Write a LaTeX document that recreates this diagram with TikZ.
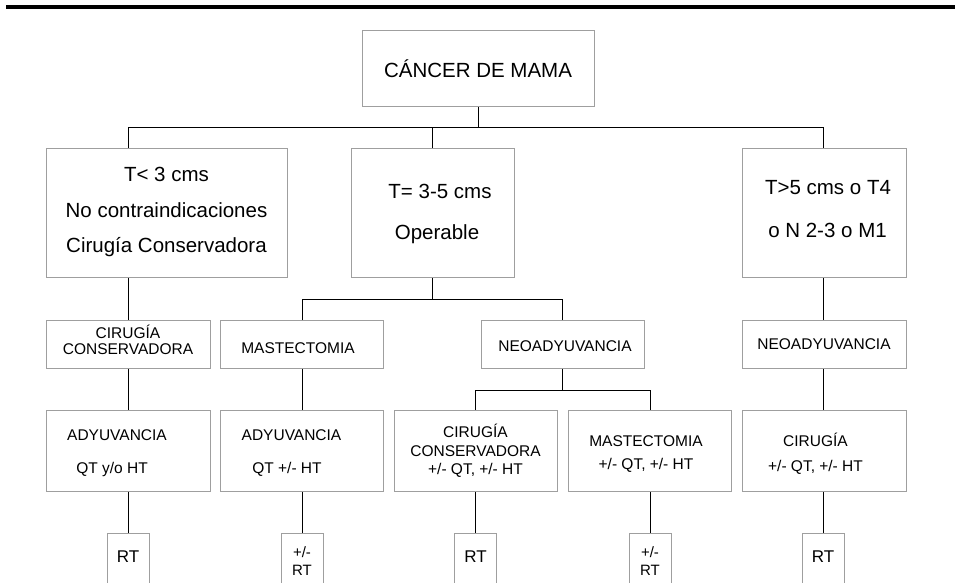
\documentclass[tikz,border=0pt]{standalone}
\usepackage{fontspec}
\setmainfont{Liberation Sans}
\usepackage{tikz}

\tikzset{
  caja/.style={draw=gray!75, line width=1pt, anchor=north, inner sep=0pt, align=center, minimum width=163pt},
  letra/.style 2 args={font=\fontsize{#1}{#2}\selectfont},
  alto/.style 2 args={text height=#1, text depth=#2},
  rtcaja/.style={caja, minimum width=42pt},
  linea/.style={line width=1pt, black}
}

\begin{document}
\begin{tikzpicture}[x=1pt, y=-1pt]
\useasboundingbox (0,0) rectangle (955,582);

% Top rule
\draw[line width=4.3pt] (6,7.2) -- (955,7.2);

% Root
\node[caja, letra={20.5}{24}, alto={47pt}{29pt}, minimum width=232pt] (cancer) at (478,30) {CÁNCER DE MAMA};

% First level: tumour size
\node[caja, letra={20.5}{35.5}, alto={104pt}{25pt}, minimum width=241pt] (tmenor) at (166.5,148) {T< 3 cms\\No contraindicaciones\\Cirugía Conservadora};
\node[caja, letra={20.5}{41}, alto={91pt}{38pt}] (tmedio) at (432.5,148) {\hspace*{15pt}T= 3-5 cms\\\hspace*{9pt}Operable};
\node[caja, letra={20.5}{43}, alto={89pt}{40pt}, minimum width=164pt] (tmayor) at (824,148) {\hspace*{8pt}T>5 cms o T4\\\hspace*{7pt}o N 2-3 o M1};

% Second level
\node[caja, letra={15.5}{16}, alto={34pt}{14pt}, minimum width=164pt] (cirugia) at (128,320) {CIRUGÍA\\CONSERVADORA};
\node[caja, letra={15.5}{18}, alto={33pt}{15pt}] (mastec) at (301.5,320) {\hspace*{-7pt}MASTECTOMIA};
\node[caja, letra={15.5}{18}, alto={31pt}{17pt}] (neoad) at (562.5,320) {\hspace*{5pt}NEOADYUVANCIA};
\node[caja, letra={15.5}{18}, alto={29pt}{19pt}, minimum width=164pt] (neoadb) at (824,320) {NEOADYUVANCIA};

% Third level
\node[caja, letra={15.5}{33}, alto={63pt}{18pt}, minimum width=164pt] (adyuv) at (128,410) {\hspace*{-22pt}ADYUVANCIA\\\hspace*{-32pt}QT y/o HT};
\node[caja, letra={15.5}{33}, alto={63pt}{18pt}] (adyuvb) at (301.5,410) {\hspace*{-20pt}ADYUVANCIA\\\hspace*{-29pt}QT +/- HT};
\node[caja, letra={15.5}{18.5}, alto={64pt}{17pt}] (cirneo) at (475.5,410) {CIRUGÍA\\CONSERVADORA\\+/- QT, +/- HT};
\node[caja, letra={15.5}{23}, alto={59pt}{22pt}] (mastneo) at (649.5,410) {\hspace*{-7pt}MASTECTOMIA\\\hspace*{-7pt}+/- QT, +/- HT};
\node[caja, letra={15.5}{25}, alto={61pt}{20pt}, minimum width=164pt] (cirmay) at (824,410) {\hspace*{-17pt}CIRUGÍA\\\hspace*{-17pt}+/- QT, +/- HT};

% Radiotherapy boxes (cut by the page edge)
\node[rtcaja, letra={17}{20}, alto={29pt}{31pt}] (rta) at (128,533) {RT};
\node[rtcaja, letra={15}{18}, alto={42pt}{18pt}] (rtb) at (302,533) {+/-\\RT};
\node[rtcaja, letra={17}{20}, alto={29pt}{31pt}] (rtc) at (475.5,533) {RT};
\node[rtcaja, letra={15}{18}, alto={42pt}{18pt}] (rtd) at (650,533) {+/-\\RT};
\node[rtcaja, letra={17}{20}, alto={29pt}{31pt}] (rte) at (823,533) {RT};

% Bus levels
\coordinate (bus1) at (0,127);
\coordinate (bus2) at (0,299);
\coordinate (bus3) at (0,390);

% Root to first level
\draw[linea] (cancer.south) -- (cancer.south |- bus1);
\draw[linea] (cirugia |- bus1) -- (rte |- bus1);
\draw[linea] (cirugia |- bus1) -- (cirugia |- tmenor.north);
\draw[linea] (tmedio.north) -- (tmedio |- bus1);
\draw[linea] (rte |- bus1) -- (rte |- tmayor.north);

% Left branch
\draw[linea] (cirugia |- tmenor.south) -- (cirugia.north);
\draw[linea] (cirugia.south) -- (adyuv.north);
\draw[linea] (adyuv.south) -- (rta.north);

% Middle branch
\draw[linea] (tmedio.south) -- (tmedio.south |- bus2);
\draw[linea] (rtb |- bus2) -- (neoad.north |- bus2);
\draw[linea] (rtb |- bus2) -- (rtb |- mastec.north);
\draw[linea] (neoad.north |- bus2) -- (neoad.north);
\draw[linea] (rtb |- mastec.south) -- (rtb |- adyuvb.north);
\draw[linea] (rtb |- adyuvb.south) -- (rtb.north);

\draw[linea] (neoad.south) -- (neoad.south |- bus3);
\draw[linea] (rtc |- bus3) -- (rtd |- bus3);
\draw[linea] (rtc |- bus3) -- (rtc |- cirneo.north);
\draw[linea] (rtd |- bus3) -- (rtd |- mastneo.north);
\draw[linea] (cirneo.south) -- (rtc.north);
\draw[linea] (rtd |- mastneo.south) -- (rtd.north);

% Right branch
\draw[linea] (rte |- tmayor.south) -- (rte |- neoadb.north);
\draw[linea] (rte |- neoadb.south) -- (rte |- cirmay.north);
\draw[linea] (rte |- cirmay.south) -- (rte.north);

\end{tikzpicture}
\end{document}
